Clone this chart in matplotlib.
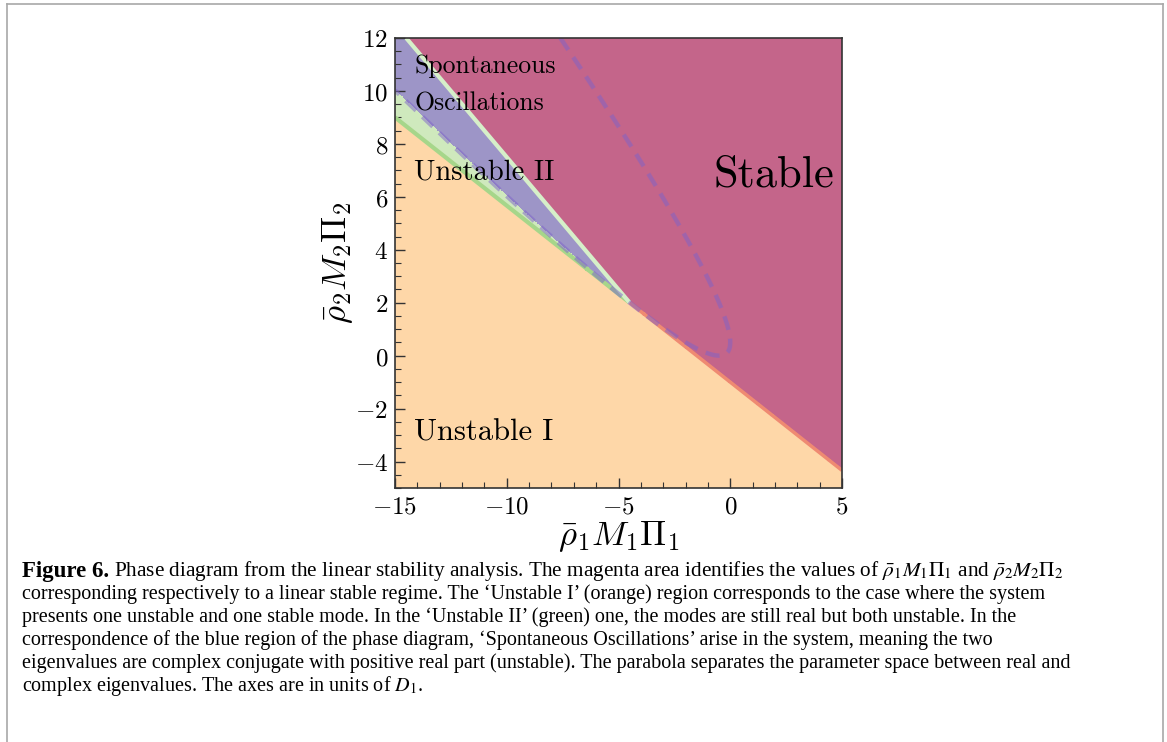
import numpy as np
import matplotlib
matplotlib.use("Agg")
import matplotlib.pyplot as plt
from matplotlib.colors import ListedColormap
from matplotlib.lines import Line2D
from matplotlib.ticker import FuncFormatter, MultipleLocator

plt.rcParams['mathtext.fontset'] = 'cm'

# model parameters (units of D1)
D1 = 1.0
D2 = 2.0 / 3.0
coupling = 2.0 / 3.0

# plotting window
x_range = [-15, 5]
y_range = [-5, 12]
x_ticks = [-15, -10, -5, 0, 5]
y_ticks = [-4, -2, 0, 2, 4, 6, 8, 10, 12]

# region fill colours: stable, unstable I, unstable II, oscillations
region_colors = ['#c4658a', '#fed7a8', '#cfe9bd', '#9d95c7']
region_labels = ['Stable', 'Unstable I', 'Unstable II', 'Spontaneous', 'Oscillations']
label_pos = [(-0.75, 6.8), (-14.15, -2.9), (-14.15, 6.92), (-14.15, 10.92), (-14.15, 9.53)]
label_size = [32, 22, 20.5, 18.5, 18.5]

caption_lines = [
    r"Phase diagram from the linear stability analysis. The magenta area identifies the values of $\bar{\rho}_1M_1\Pi_1$ and $\bar{\rho}_2M_2\Pi_2$",
    "corresponding respectively to a linear stable regime. The \u2018Unstable I\u2019 (orange) region corresponds to the case where the system",
    "presents one unstable and one stable mode. In the \u2018Unstable II\u2019 (green) one, the modes are still real but both unstable. In the",
    "correspondence of the blue region of the phase diagram, \u2018Spontaneous Oscillations\u2019 arise in the system, meaning the two",
    "eigenvalues are complex conjugate with positive real part (unstable). The parabola separates the parameter space between real and",
    r"complex eigenvalues. The axes are in units of $D_1$.",
]

# growth matrix  G = -[[D1 + a u, a u], [a v, D2 + a v]]
u, v = np.meshgrid(np.linspace(x_range[0], x_range[1], 1600),
                   np.linspace(y_range[0], y_range[1], 1600))
a = coupling
trace = -(D1 + D2 + a * (u + v))
det = (D1 + a * u) * (D2 + a * v) - a * a * u * v
disc = (D1 + a * u - D2 - a * v) ** 2 + 4 * a * a * u * v

regime = np.zeros_like(u)
regime[det < 0] = 1
regime[(det >= 0) & (trace > 0) & (disc >= 0)] = 2
regime[(det >= 0) & (trace > 0) & (disc < 0)] = 3

fig = plt.figure(figsize=(11.67, 7.42), dpi=100)
ax = fig.add_axes([0.3385, 0.3423, 0.383, 0.6065])

ax.imshow(regime, origin='lower', extent=x_range + y_range, aspect='auto',
          cmap=ListedColormap(region_colors), vmin=-0.5, vmax=3.5,
          interpolation='nearest')

# det = 0 line, green next to unstable II, red next to the stable region
det_left = np.ma.masked_where(trace < 0, det)
det_right = np.ma.masked_where(trace > 0, det)
ax.contour(u, v, det_left, levels=[0], colors='#a6d68a', linewidths=3.0)
ax.contour(u, v, det_right, levels=[0], colors='#ef8a72', linewidths=2.5)

# trace = 0 line above the crossing point
tr_up = np.ma.masked_where(det < 0, trace)
ax.contour(u, v, tr_up, levels=[0], colors='#d6efc9', linewidths=3.0)

# parabola disc = 0, dashed
cs = ax.contour(u, v, disc, levels=[0])
segs = cs.allsegs[0]
cs.remove()
for seg in segs:
    ax.plot(seg[:, 0], seg[:, 1], color='#7e63c9', alpha=0.5, lw=3.2,
            dashes=(3.2, 2.0), solid_capstyle='butt')

for txt, (px, py), fs in zip(region_labels, label_pos, label_size):
    ax.text(px, py, txt, fontsize=fs, family='cmr10', va='center', ha='left')

ax.set_xlim(x_range)
ax.set_ylim(y_range)
ax.set_xticks(x_ticks)
ax.set_yticks(y_ticks)
ax.xaxis.set_minor_locator(MultipleLocator(1))
ax.yaxis.set_minor_locator(MultipleLocator(0.5))
fmt = FuncFormatter(lambda val, pos: r'$%d$' % val)
ax.xaxis.set_major_formatter(fmt)
ax.yaxis.set_major_formatter(fmt)
ax.tick_params(which='both', direction='in', top=False, right=False,
               labelsize=18, color='#333333')
ax.tick_params(which='major', length=7, width=1.0, pad=5)
ax.tick_params(which='minor', length=4, width=0.8)
for sp in ax.spines.values():
    sp.set_color('#333333')
    sp.set_linewidth(1.2)

ax.set_xlabel(r'$\bar{\rho}_1 M_1 \Pi_1$', fontsize=25, labelpad=0)
ax.set_ylabel(r'$\bar{\rho}_2 M_2 \Pi_2$', fontsize=25, labelpad=0)

# page frame
W, H = 1167.0, 742.0
frame_kw = dict(color='#a8a8a8', lw=1.2, transform=fig.transFigure)
fig.add_artist(Line2D([7 / W, 1163 / W], [1 - 4 / H, 1 - 4 / H], **frame_kw))
fig.add_artist(Line2D([7 / W, 7 / W], [0, 1 - 4 / H], **frame_kw))
fig.add_artist(Line2D([1163 / W, 1163 / W], [0, 1 - 4 / H], **frame_kw))

# caption
cap_kw = dict(family='Liberation Serif', va='center', math_fontfamily='stix')
renderer = fig.canvas.get_renderer()
x0 = 22 / W
y0 = 571.0
step = 23.0
head = fig.text(x0, 1 - y0 / H, 'Figure 6.', fontweight='bold', fontsize=16.5,
                **cap_kw)
bb = head.get_window_extent(renderer=renderer)
fig.text(x0 + (bb.width + 5) / W, 1 - y0 / H, caption_lines[0],
         fontsize=15.3, **cap_kw)
for i, line in enumerate(caption_lines[1:], start=1):
    fig.text(x0, 1 - (y0 + i * step) / H, line, fontsize=14.5, **cap_kw)

fig.savefig('out.png', dpi=100)
